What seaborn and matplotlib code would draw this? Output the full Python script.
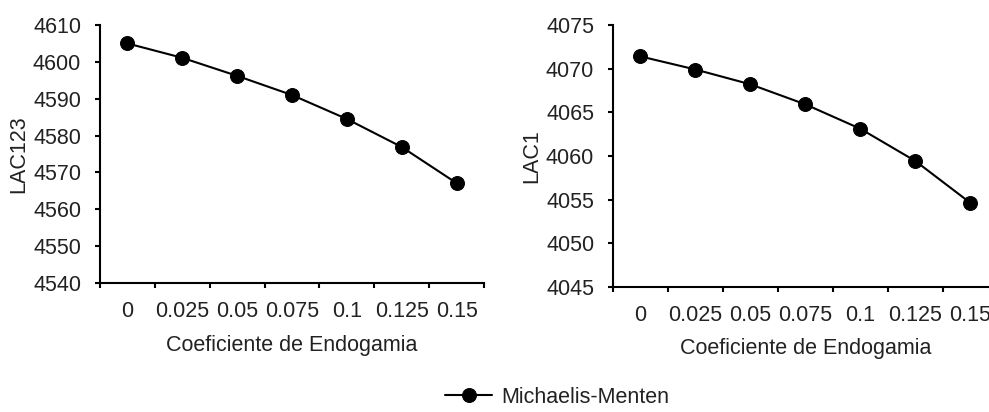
import numpy as np
import pandas as pd
import seaborn as sns
import matplotlib.pyplot as plt
from matplotlib.ticker import FixedLocator

categorias = ["0", "0.025", "0.05", "0.075", "0.1", "0.125", "0.15"]
lac123 = [4605.0, 4601.1, 4596.2, 4591.0, 4584.5, 4576.9, 4567.1]
lac1 = [4071.4, 4069.9, 4068.2, 4065.9, 4063.1, 4059.4, 4054.6]
serie = "Michaelis-Menten"

sns.set_style("ticks")
plt.rcParams['font.family'] = ['Liberation Sans', 'DejaVu Sans']
plt.rcParams['text.color'] = '#222222'
plt.rcParams['axes.labelcolor'] = '#222222'
plt.rcParams['xtick.color'] = 'black'
plt.rcParams['ytick.color'] = 'black'
plt.rcParams['xtick.labelcolor'] = '#222222'
plt.rcParams['ytick.labelcolor'] = '#222222'

fs = 15.5

fig = plt.figure(figsize=(9.89, 4.12), dpi=100)
ax1 = fig.add_axes([0.1011, 0.3131, 0.3883, 0.6262])
ax2 = fig.add_axes([0.6198, 0.3040, 0.3893, 0.6353])


def panel(ax, vals, ylabel, yticks):
    df = pd.DataFrame({"pos": np.arange(len(categorias)), "val": vals, "serie": serie})
    sns.lineplot(data=df, x="pos", y="val", hue="serie", palette=["black"],
                 marker="o", markersize=10, markeredgecolor="black",
                 linewidth=1.5, ax=ax)
    ax.set_xlim(-0.5, len(categorias) - 0.5)
    ax.set_ylim(yticks[0], yticks[-1])
    ax.set_yticks(yticks)
    ax.set_yticklabels([str(t) for t in yticks], fontsize=fs)
    ax.xaxis.set_major_locator(FixedLocator(np.arange(-0.5, len(categorias), 1.0)))
    ax.set_xticklabels([])
    ax.xaxis.set_minor_locator(FixedLocator(np.arange(len(categorias))))
    ax.set_xticklabels(categorias, minor=True, fontsize=fs)
    ax.tick_params(axis="x", which="minor", length=0, pad=13)
    ax.tick_params(axis="both", which="major", length=3.5, width=1.5, direction="out")
    ax.tick_params(axis="y", pad=10)
    for s in ["top", "right"]:
        ax.spines[s].set_visible(False)
    for s in ["left", "bottom"]:
        ax.spines[s].set_color("black")
        ax.spines[s].set_linewidth(1.5)
    ax.set_xlabel("Coeficiente de Endogamia", fontsize=fs, labelpad=9)
    ax.set_ylabel(ylabel, fontsize=fs, labelpad=3)
    ax.get_legend().remove()


panel(ax1, lac123, "LAC123", list(range(4540, 4611, 10)))
panel(ax2, lac1, "LAC1", list(range(4045, 4076, 5)))

handles, labels = ax1.get_legend_handles_labels()
fig.legend(handles, labels, loc="center left", bbox_to_anchor=(445 / 989, 0.036),
           frameon=False, fontsize=fs, handlelength=2.2, handletextpad=0.4,
           borderpad=0, borderaxespad=0)

fig.savefig("out.png", dpi=100)
